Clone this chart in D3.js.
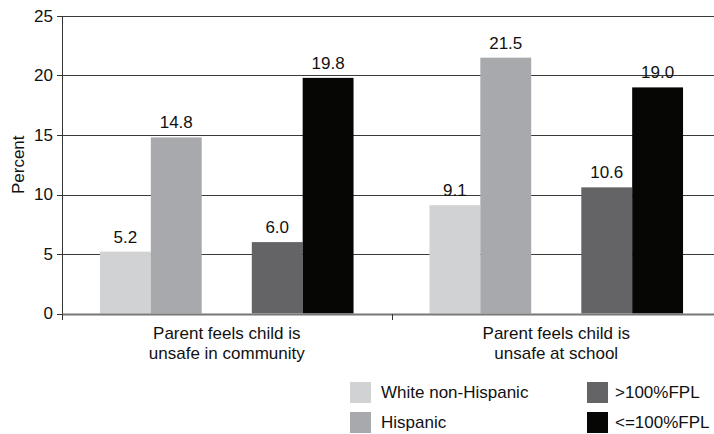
<!DOCTYPE html>
<html>
<head>
<meta charset="utf-8">
<script src="https://cdn.jsdelivr.net/npm/d3@7"></script>
<style>
	body { margin: 0; background: #fff; }
	svg text { font-family: "Liberation Sans", Arial, sans-serif; fill: #111; }
</style>
</head>
<body>
<svg id="chart" width="714" height="434"></svg>
<script>
;(function() {
	"use strict";

	// Data
	var categories = ["Parent feels child is|unsafe in community", "Parent feels child is|unsafe at school"];
	var series = ["White non-Hispanic", "Hispanic", ">100%FPL", "<=100%FPL"];
	var pairs = ["race", "income"];
	var seriesPair = ["race", "race", "income", "income"];
	var colors = ["#d1d2d4", "#a8a9ac", "#646466", "#060604"];
	var values = [
		[5.2, 14.8, 6.0, 19.8],
		[9.1, 21.5, 10.6, 19.0]
	];
	var yTicks = [0, 5, 10, 15, 20, 25];

	var svg = d3.select("#chart"),
		left = 62,
		right = 721,
		top = 16,
		bottom = 313.5;

	var x = d3.scaleBand().domain(categories).range([left, right]);
	var xPair = d3.scaleBand().domain(pairs).range([0, x.bandwidth()])
		.paddingInner(0.33).paddingOuter(0.25);
	var xBar = d3.scaleBand().domain([0, 1]).range([0, xPair.bandwidth()]);
	var y = d3.scaleLinear().domain([0, 25]).range([bottom, top]);

	var fontSize = "17px";

	// gridlines
	svg.append("g").attr("class", "grid")
		.selectAll("line").data(yTicks.slice(1)).enter()
		.append("line")
			.attr("x1", left).attr("x2", 714)
			.attr("y1", function(d) { return Math.round(y(d)) + 0.5; })
			.attr("y2", function(d) { return Math.round(y(d)) + 0.5; })
			.attr("stroke", "#3a3a3a")
			.attr("stroke-width", 1);

	// bars
	var groups = svg.selectAll(".cat").data(categories).enter()
		.append("g")
			.attr("class", "cat")
			.attr("transform", function(d) { return "translate(" + x(d) + ",0)"; });

	groups.each(function(cat, ci) {
		var g = d3.select(this);
		var data = series.map(function(s, i) { return {i: i, v: values[ci][i]}; });
		var barX = function(d) { return xPair(seriesPair[d.i]) + xBar(d.i % 2); };

		g.selectAll("rect").data(data).enter()
			.append("rect")
				.attr("x", barX)
				.attr("y", function(d) { return y(d.v); })
				.attr("width", xBar.bandwidth())
				.attr("height", function(d) { return y(0) - y(d.v); })
				.attr("fill", function(d) { return colors[d.i]; });

		g.selectAll("text.val").data(data).enter()
			.append("text")
				.attr("class", "val")
				.attr("x", function(d) { return barX(d) + xBar.bandwidth() / 2; })
				.attr("y", function(d) { return y(d.v) - 9; })
				.attr("text-anchor", "middle")
				.style("font-size", fontSize)
				.text(function(d) { return d.v.toFixed(1); });
	});

	// y axis
	var yAxis = svg.append("g").attr("class", "y-axis");
	yAxis.append("line")
		.attr("x1", left + 0.5).attr("x2", left + 0.5)
		.attr("y1", Math.round(y(25))).attr("y2", Math.round(bottom) + 1)
		.attr("stroke", "#333");
	yAxis.selectAll("line.tick").data(yTicks).enter()
		.append("line")
			.attr("class", "tick")
			.attr("x1", left - 5).attr("x2", left)
			.attr("y1", function(d) { return Math.round(y(d)) + 0.5; })
			.attr("y2", function(d) { return Math.round(y(d)) + 0.5; })
			.attr("stroke", "#333");
	yAxis.selectAll("text").data(yTicks).enter()
		.append("text")
			.attr("x", left - 9)
			.attr("y", function(d) { return y(d); })
			.attr("dy", "0.35em")
			.attr("text-anchor", "end")
			.style("font-size", fontSize)
			.text(function(d) { return d; });

	svg.append("text")
		.attr("transform", "translate(24," + ((top + bottom) / 2) + ") rotate(-90)")
		.attr("text-anchor", "middle")
		.style("font-size", fontSize)
		.text("Percent");

	// x axis
	var xAxis = svg.append("g").attr("class", "x-axis");
	xAxis.append("line")
		.attr("x1", left).attr("x2", 714)
		.attr("y1", Math.round(bottom) + 0.5).attr("y2", Math.round(bottom) + 0.5)
		.attr("stroke", "#777").attr("stroke-width", 2);
	xAxis.selectAll("line.tick").data(categories.concat([null])).enter()
		.append("line")
			.attr("class", "tick")
			.attr("x1", function(d) { return Math.round(d ? x(d) : right) + 0.5; })
			.attr("x2", function(d) { return Math.round(d ? x(d) : right) + 0.5; })
			.attr("y1", Math.round(bottom)).attr("y2", Math.round(bottom) + 6)
			.attr("stroke", "#333");

	xAxis.selectAll("text").data(categories).enter()
		.append("text")
			.attr("x", function(d) { return x(d) + x.bandwidth() / 2; })
			.attr("y", 339)
			.attr("text-anchor", "middle")
			.style("font-size", fontSize)
			.each(function(d) {
				var t = d3.select(this);
				d.split("|").forEach(function(line, i) {
					t.append("tspan")
						.attr("x", x(d) + x.bandwidth() / 2)
						.attr("dy", i ? 20 : 0)
						.text(line);
				});
			});

	// legend
	var legendX = [350, 587],
		legendY = [382, 412],
		sw = 21;
	var legend = svg.append("g").attr("class", "legend");
	var items = legend.selectAll(".legend-item").data(series).enter()
		.append("g")
			.attr("class", "legend-item")
			.attr("transform", function(d, i) {
				return "translate(" + legendX[Math.floor(i / 2)] + "," + legendY[i % 2] + ")";
			});
	items.append("rect")
		.attr("width", sw).attr("height", sw)
		.attr("fill", function(d, i) { return colors[i]; });
	items.append("text")
		.attr("x", function(d, i) { return i < 2 ? sw + 10 : sw + 7; })
		.attr("y", sw / 2)
		.attr("dy", "0.35em")
		.style("font-size", fontSize)
		.text(function(d) { return d; });
})();
</script>
</body>
</html>
